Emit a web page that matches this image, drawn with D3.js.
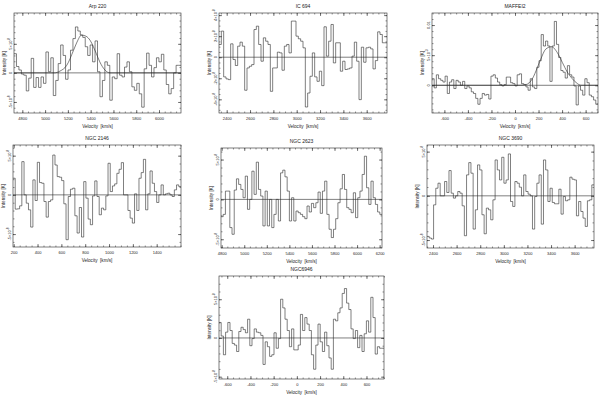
<!DOCTYPE html>
<html>
<head>
<meta charset="utf-8">
<script src="https://cdn.jsdelivr.net/npm/d3@7"></script>
<style>
body { margin: 0; background: #fff; }
text { font-family: "Liberation Sans", Arial, sans-serif; fill: #222; }
</style>
</head>
<body>
<svg id="chart" width="600" height="397"></svg>
<script>
var titles = ['Arp 220', 'IC 694', 'MAFFEI2', 'NGC 2146', 'NGC 2623', 'NGC 3690', 'NGC6946'];

// brightness temperatures, in units of the y tick labels (1e-8 K, MAFFEI2 in 1e-3 K)
var arp220 = [3.3, 1.1, 0.5, -0.2, -0.4, -3.1, -0.9, 2.5, -2.5, -0.8,
  -2.5, -0.7, -1.8, 3.6, 0.2, 2.6, -3.9, -1.3, 1.6, 4.8,
  3.0, -1.1, 0.5, 3.9, 5.9, 7.9, 7.2, 6.5, 6.1, 4.5,
  3.0, 4.8, 1.9, 5.5, 0.2, -4.1, -1.3, 1.9, 1.3, -4.7,
  -0.7, -1.0, 3.3, -0.4, -0.7, 1.0, 1.9, 0.2, -2.4, -3.0,
  -1.8, -3.6, -5.9, 0.7, 3.4, 1.3, -0.7, 0.9, 2.6, 1.9,
  3.2, 0.5, -2.0, -3.6, -2.7, 0.0, 1.3, 1.3];
var ic694 = [1.21, 2.48, -1.87, -2.06, -2.13, 1.27, -0.22, -0.79, 1.05, 1.43,
  1.05, -3.14, -1.02, -0.86, -0.70, 2.63, 2.95, 1.21, -0.38, 1.84,
  1.52, 1.21, -3.24, -1.02, -1.02, 0.48, 0.41, -1.24, 1.05, 1.21,
  0.41, 3.43, 3.43, 2.0, 1.75, 1.52, 0.89, -4.73, -3.4, -1.81,
  0.41, -1.87, -2.29, -1.33, -2.7, 2.89, 0.1, 1.52, 3.11, -0.54,
  1.37, 1.37, -1.33, -0.38, -1.17, -1.11, -1.02, 0.1, 1.43, -0.38,
  -4.03, 0.95, -0.48, 0.89, 0.95, 0.79, -1.11, -0.32, 2.41, 2.16,
  1.37, 1.37];
var maffei2 = [1.09, -0.43, 1.74, 1.09, 0.82, 0.54, 1.52, -1.36, 0.54, 0.92,
  -0.54, 0.82, 0.54, 0, 0.65, -0.54, -0.11, -0.43, -1.09, -1.36,
  -2.17, -3.15, -2.17, -1.36, -1.63, -1.52, -2.28, 1.52, 1.74, 1.2,
  0.54, 0.11, -0.11, 0.11, 1.36, 1.36, 0.43, 0.27, -0.11, 1.74,
  1.9, 0.27, 0.11, -0.27, -0.82, 1.09, -0.27, -0.54, 2.99, 4.08,
  8.42, 6.52, 7.34, 6.52, 0.65, 6.52, 10.6, 6.79, 4.62, 2.45,
  2.17, 1.2, 3.26, 1.74, 1.36, -0.11, -3.26, -0.11, -0.82, -1.63,
  1.09, 0.43, -1.63, -1.9, -2.45, -3.15];
var ngc2146 = [2.12, -1.82, -1.78, -1.4, 4.24, 0, -1.06, -1.91, -4.11, 1.91,
  -0.72, 4.15, 1.57, 1.48, -0.85, -2.84, -0.85, -0.64, 5.08, 3.81,
  2.33, 2.25, 1.82, -1.14, -5.72, -0.21, 0.72, 0.85, -2.67, -4.87,
  -1.61, -5.38, 1.69, -0.42, -3.09, -3.81, -0.13, 1.78, -0.21, -2.54,
  -1.69, -1.91, -0.13, 4.03, 0.42, 1.14, 1.4, 2.75, 3.26, 4.11,
  0, 0, -1.99, -2.97, -3.6, 0.13, -1.99, 2.12, 2.84, 4.53,
  -1.91, 0.13, 3.05, 1.48, 0.42, -0.97, 0, 1.27, 0, 0.13,
  0.21, 0, -0.21, 0.64, 1.27, 1.06];
var ngc2623 = [-2.17, -1.88, 1.04, 1.04, -3.54, -4.38, 1.17, 2.58, 1.88, 1.25,
  0.21, 2.92, -1.25, 0, 3.54, 0.63, 4.67, 1.25, 0.42, -3.33,
  1.04, -3.33, 0, -3.54, -1.88, 0, -2.71, 3.33, 3.67, 2.83,
  1.04, -2.71, 0.21, -2.71, -1.46, -1.67, -1.88, -2.17, -2.42, -0.83,
  -1.58, -0.5, -1.04, -0.42, 0.92, -1.75, 1.04, 2.29, -1.88, -3.75,
  -4.79, -3.75, -2.42, -0.42, 1.33, 3.13, 1.25, -1.04, -1.25, -1.67,
  0.83, -2.29, 0.21, 1.04, 3.13, 5.42, 1.46, -0.63, 2.29, 0.21,
  -0.63, -1.58, -1.88];
var ngc3690 = [-4.59, -4.77, -4.89, -1.02, 0.86, 1.43, 0, 0, 1.62, 0.38,
  2.86, 0.3, -0.26, 0, 0.49, 0.3, -1.13, -4.51, 2.37, 3.76,
  2.56, -3.76, -1.58, 3.5, 2.93, -2.14, -4.29, -1.39, -1.58, -2.71,
  -0.45, 4.06, 2.93, 1.8, 4.36, 1.43, 1.8, 4.74, -0.64, -1.2,
  1.62, 1.43, 0.98, 0, 2.37, 0.49, 0.19, 0, -3.76, -0.08,
  1.43, 2.37, -3.2, 4.06, 2.93, -0.64, 0.86, -0.75, -0.9, -0.9,
  0.75, -2.07, -0.08, -0.56, -0.45, 2.11, 1.88, 1.8, -2.26, -0.64,
  -1.77, -2.52, -3.46, -0.56, -0.45, 1.24];
var ngc6946 = [2.0, 0.25, -2.17, 0.75, 2.0, 0.96, -0.71, -0.92, -1.75, 0.83,
  1.38, 1.08, 0.67, 2.42, -1.0, -0.08, 1.17, 0.75, 0.67, 0.33,
  -3.42, -0.5, -1.13, -2.38, -2.17, 0.67, -1.33, -0.08, 5.0, 3.88,
  2.42, 0.96, -1.13, 1.17, -1.54, -1.54, -0.92, 3.04, 0.96, 2.63,
  1.79, 0.96, -2.17, -4.04, -0.92, 1.79, -0.5, -1.75, 0.75, -1.0,
  -2.58, -4.04, 2.42, 2.21, 3.25, 3.88, 5.75, 6.38, 4.5, 3.67,
  1.17, -0.08, 0.96, -1.25, 0.33, -1.75, 0.54, 2.21, 0.75, 5.25,
  2.63, -2.08, -1.13, -1.33, -1.33];

// channel grid (km/s)
var velStart = [4727, 2334, -705, 194, 4794, 2349, -671];
var velStep = [21.56, 20, 18.55, 18.55, 19.55, 18.62, 18.96];

// gaussian fits
var arp220FitV = [4727, 5080, 5130, 5190, 5250, 5280, 5320, 5360, 5395, 5450, 5480, 5525, 5570, 6193];
var arp220FitT = [0, 0, 0.3, 1.3, 3.9, 5.3, 6.5, 6.3, 5.6, 3.3, 1.9, 0.5, 0, 0];
var maffei2FitV = [-705, 50, 92, 148, 191, 219, 261, 310, 360, 402, 444, 486, 529, 560, 705];
var maffei2FitT = [0, 0, 0.1, 1.1, 3.0, 4.35, 6.0, 6.4, 5.4, 3.8, 2.2, 1.1, 0.3, 0, 0];

var xDomains = [[4727, 6193], [2334, 3774], [-705, 705], [194, 1604], [4794, 6221], [2349, 3764], [-671, 751]];
var yDomains = [[-6.9, 10.3], [-5.3, 4.2], [-4.6, 12.0], [-6.65, 6.36], [-6.1, 6.45], [-5.9, 5.75], [-5.3, 8.0]];

var xTicks = [
  [4800, 5000, 5200, 5400, 5600, 5800, 6000],
  [2400, 2600, 2800, 3000, 3200, 3400, 3600],
  [-600, -400, -200, 0, 200, 400, 600],
  [200, 400, 600, 800, 1000, 1200, 1400],
  [4800, 5000, 5200, 5400, 5600, 5800, 6000, 6200],
  [2400, 2600, 2800, 3000, 3200, 3400, 3600],
  [-600, -400, -200, 0, 200, 400, 600]
];
var yTicks = [[-5, 0, 5], [-4, -2, 0, 2, 4], [0, 5, 10], [-5, 0, 5], [-5, 0, 5], [-5, 0, 5], [-5, 0, 5]];
var yTickText = [
  ['-5\u00d710^-8', '0', '5\u00d710^-8'],
  ['-4\u00d710^-8', '-2\u00d710^-8', '0', '2\u00d710^-8', '4\u00d710^-8'],
  ['0', '5\u00d710^-3', '0.01'],
  ['-5\u00d710^-8', '0', '5\u00d710^-8'],
  ['-5\u00d710^-8', '0', '5\u00d710^-8'],
  ['-5\u00d710^-8', '0', '5\u00d710^-8'],
  ['-5\u00d710^-8', '0', '5\u00d710^-8']
];
var xMinor = [50, 50, 50, 50, 50, 50, 50];
var yMinor = [1, 0.5, 1, 1, 1, 1, 1];

var boxes = [
  {x: 14, y: 13, w: 167, h: 100},
  {x: 219, y: 13, w: 168, h: 100},
  {x: 432, y: 13, w: 166, h: 100},
  {x: 13, y: 145, w: 168, h: 102},
  {x: 221, y: 148, w: 161, h: 100},
  {x: 427, y: 145, w: 167, h: 103},
  {x: 219, y: 276, w: 165, h: 103}
];

var spectra = [arp220, ic694, maffei2, ngc2146, ngc2623, ngc3690, ngc6946];
var fits = [[arp220FitV, arp220FitT], null, [maffei2FitV, maffei2FitT], null, null, null, null];

var ink = '#2a2a2a';
var svg = d3.select('#chart');

function minorTicks(dom, step) {
  var lo = Math.ceil(dom[0] / step) * step;
  return d3.range(lo, dom[1], step);
}

function styleAxis(sel, w) {
  sel.select('.domain').remove();
  sel.attr('color', ink).attr('font-size', 4).attr('font-family', '"Liberation Sans", Arial, sans-serif');
  sel.selectAll('line').attr('stroke-width', w);
}

spectra.forEach(function(vals, k) {
  var b = boxes[k];
  var x = d3.scaleLinear().domain(xDomains[k]).range([0, b.w]);
  var y = d3.scaleLinear().domain(yDomains[k]).range([b.h, 0]);
  var g = svg.append('g').attr('transform', 'translate(' + b.x + ',' + b.y + ')');

  g.append('clipPath').attr('id', 'clip' + k)
    .append('rect').attr('width', b.w).attr('height', b.h);

  // ticks, inward on all four sides
  var mx = minorTicks(xDomains[k], xMinor[k]);
  var my = minorTicks(yDomains[k], yMinor[k]);
  g.append('g').attr('transform', 'translate(0,' + b.h + ')')
    .call(d3.axisBottom(x).tickValues(mx).tickSize(-1.5).tickFormat(''))
    .call(styleAxis, 0.5);
  g.append('g')
    .call(d3.axisTop(x).tickValues(mx).tickSize(-1.5).tickFormat(''))
    .call(styleAxis, 0.5);
  g.append('g')
    .call(d3.axisTop(x).tickValues(xTicks[k]).tickSize(-3).tickFormat(''))
    .call(styleAxis, 0.6);
  g.append('g').attr('transform', 'translate(0,' + b.h + ')')
    .call(d3.axisBottom(x).tickValues(xTicks[k]).tickSize(-3).tickPadding(4).tickFormat(function(d) { return String(d); }))
    .call(styleAxis, 0.6);
  g.append('g')
    .call(d3.axisLeft(y).tickValues(my).tickSize(-1.5).tickFormat(''))
    .call(styleAxis, 0.5);
  g.append('g').attr('transform', 'translate(' + b.w + ',0)')
    .call(d3.axisRight(y).tickValues(my).tickSize(-1.5).tickFormat(''))
    .call(styleAxis, 0.5);
  g.append('g')
    .call(d3.axisLeft(y).tickValues(yTicks[k]).tickSize(-3).tickFormat(''))
    .call(styleAxis, 0.6);
  g.append('g').attr('transform', 'translate(' + b.w + ',0)')
    .call(d3.axisRight(y).tickValues(yTicks[k]).tickSize(-3).tickFormat(''))
    .call(styleAxis, 0.6);

  // rotated y tick labels with exponent
  yTicks[k].forEach(function(v, i) {
    var parts = yTickText[k][i].split('^');
    var t = g.append('text')
      .attr('transform', 'translate(-2,' + y(v) + ') rotate(-90)')
      .attr('text-anchor', 'middle')
      .attr('font-size', 4)
      .text(parts[0]);
    if (parts.length > 1) {
      t.append('tspan').attr('dy', -1.8).attr('font-size', 3).text(parts[1]);
    }
  });

  // zero line
  g.append('line')
    .attr('x1', 0).attr('x2', b.w)
    .attr('y1', y(0)).attr('y2', y(0))
    .attr('stroke', ink).attr('stroke-width', 0.6);

  // spectrum
  var pts = vals.map(function(t, i) { return [velStart[k] + i * velStep[k], t]; });
  pts.push([velStart[k] + vals.length * velStep[k], vals[vals.length - 1]]);
  var step = d3.line()
    .x(function(d) { return x(d[0]); })
    .y(function(d) { return y(d[1]); })
    .curve(d3.curveStepAfter);
  g.append('path')
    .attr('d', step(pts))
    .attr('clip-path', 'url(#clip' + k + ')')
    .attr('fill', 'none').attr('stroke', ink).attr('stroke-width', 0.6);

  if (fits[k]) {
    var fp = fits[k][0].map(function(v, i) { return [v, fits[k][1][i]]; });
    var smooth = d3.line()
      .x(function(d) { return x(d[0]); })
      .y(function(d) { return y(d[1]); })
      .curve(d3.curveMonotoneX);
    g.append('path')
      .attr('d', smooth(fp))
      .attr('clip-path', 'url(#clip' + k + ')')
      .attr('fill', 'none').attr('stroke', ink).attr('stroke-width', 0.6);
  }

  // frame
  g.append('rect')
    .attr('width', b.w).attr('height', b.h)
    .attr('fill', 'none').attr('stroke', ink).attr('stroke-width', 0.6);

  g.append('text')
    .attr('x', b.w / 2).attr('y', -5)
    .attr('text-anchor', 'middle').attr('font-size', 5)
    .text(titles[k]);
  g.append('text')
    .attr('x', b.w / 2).attr('y', b.h + 14.5)
    .attr('text-anchor', 'middle').attr('font-size', 4.6)
    .attr('xml:space', 'preserve')
    .text('Velocity  [km/s]');
  g.append('text')
    .attr('transform', 'translate(-8,' + (b.h / 2) + ') rotate(-90)')
    .attr('text-anchor', 'middle').attr('font-size', 4.6)
    .text('Intensity [K]');
});
</script>
</body>
</html>
